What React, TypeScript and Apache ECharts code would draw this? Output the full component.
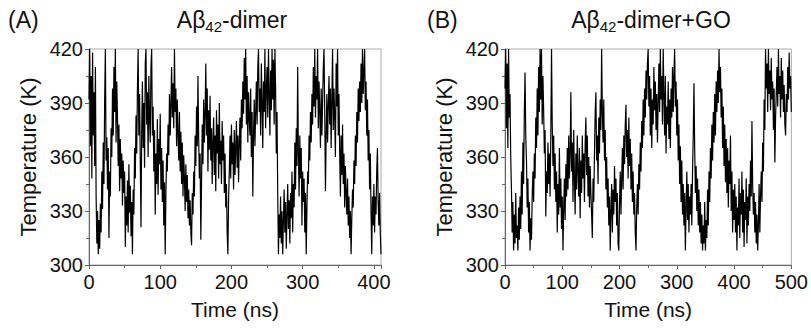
import React, { useEffect, useRef } from "react";
import * as echarts from "echarts";

// Replica temperature trajectories (K), one value per fixed time step (ns)
const TIME_STEP_A = 1;
const TIME_STEP_B = 1.25;

const tempA: number[] = [
  392, 420, 366, 405, 348, 418, 372, 396, 355, 410,
  338, 312, 330, 306, 325, 309, 334, 318, 352, 331,
  368, 345, 392, 420, 358, 371, 342, 365, 315, 352,
  338, 376, 360, 398, 372, 410, 385, 420, 368, 402,
  382, 355, 378, 341, 370, 348, 362, 333, 358, 340,
  352, 310, 338, 322, 347, 318, 356, 329, 344, 316,
  335, 306, 342, 328, 365, 348, 383, 362, 398, 420,
  372, 395, 358, 321, 376, 402, 365, 390, 354, 412,
  420, 378, 396, 360, 405, 382, 368, 410, 420, 372,
  388, 352, 375, 328, 362, 345, 381, 339, 370, 356,
  384, 342, 365, 335, 358, 322, 346, 306, 340, 362,
  352, 378, 361, 395, 372, 388, 410, 382, 401, 376,
  420, 385, 398, 366, 392, 372, 358, 385, 352, 374,
  345, 368, 338, 361, 348, 330, 356, 335, 350, 326,
  342, 322, 336, 318, 311, 340, 328, 352, 338, 372,
  355, 388, 366, 405, 370, 348, 362, 314, 345, 378,
  356, 392, 368, 383, 412, 372, 398, 352, 386, 364,
  394, 358, 376, 345, 368, 382, 350, 372, 341, 386,
  362, 378, 348, 390, 356, 369, 345, 380, 358, 372,
  340, 362, 332, 345, 318, 306, 336, 352, 372, 348,
  378, 356, 368, 342, 375, 350, 365, 380, 354, 372,
  346, 368, 382, 358, 392, 376, 402, 384, 415, 392,
  420, 378, 405, 368, 396, 382, 372, 398, 360, 385,
  338, 372, 392, 366, 385, 402, 378, 410, 420, 385,
  398, 372, 412, 390, 365, 402, 385, 420, 376, 398,
  410, 382, 420, 395, 372, 408, 386, 420, 392, 414,
  378, 420, 398, 362, 385, 340, 306, 328, 315, 338,
  312, 330, 306, 325, 342, 318, 335, 309, 328, 345,
  320, 336, 312, 340, 326, 352, 318, 345, 332, 368,
  342, 376, 355, 410, 362, 338, 372, 348, 365, 322,
  352, 335, 348, 318, 340, 306, 332, 352, 345, 372,
  358, 385, 368, 395, 378, 410, 388, 420, 382, 405,
  392, 420, 376, 402, 385, 365, 398, 372, 390, 410,
  420, 385, 341, 372, 395, 368, 388, 405, 378, 398,
  365, 392, 420, 375, 398, 382, 360, 412, 388, 420,
  372, 395, 362, 338, 372, 350, 378, 345, 362, 332,
  355, 340, 328, 348, 322, 338, 315, 330, 306, 326,
  342, 332, 358, 345, 372, 355, 385, 368, 398, 380,
  402, 385, 412, 390, 420, 395, 408, 420, 386, 402,
  372, 392, 358, 375, 342, 362, 330, 306, 338, 322,
  345, 318, 338, 328, 352, 365, 335, 322, 340, 318,
  306,
];

const tempB: number[] = [
  398, 420, 376, 412, 365, 420, 382, 395, 360, 342,
  318, 335, 308, 328, 312, 340, 315, 322, 308, 332,
  314, 338, 320, 352, 328, 368, 345, 385, 407, 372,
  358, 332, 348, 318, 335, 308, 326, 314, 338, 352,
  335, 362, 348, 382, 365, 398, 372, 410, 385, 420,
  392, 420, 378, 405, 386, 362, 375, 327, 352, 340,
  368, 345, 362, 338, 372, 420, 378, 355, 372, 342,
  362, 335, 352, 318, 345, 328, 365, 332, 348, 320,
  338, 308, 332, 348, 325, 356, 338, 365, 342, 372,
  348, 362, 396, 352, 368, 335, 375, 348, 328, 362,
  342, 372, 352, 338, 365, 326, 358, 340, 372, 348,
  362, 335, 368, 382, 350, 372, 338, 360, 332, 355,
  340, 328, 315, 348, 335, 362, 385, 396, 358, 372,
  345, 382, 362, 392, 375, 420, 386, 368, 392, 358,
  375, 342, 360, 332, 348, 322, 338, 308, 330, 345,
  318, 342, 328, 355, 335, 348, 322, 340, 312, 308,
  335, 352, 328, 348, 365, 342, 372, 356, 378, 389,
  360, 375, 348, 382, 355, 370, 342, 362, 335, 352,
  328, 340, 318, 308, 332, 345, 328, 356, 342, 368,
  352, 380, 365, 392, 372, 398, 382, 408, 392, 412,
  420, 388, 405, 372, 398, 365, 392, 378, 410, 386,
  402, 375, 395, 368, 390, 412, 385, 420, 392, 405,
  378, 420, 395, 372, 405, 362, 388, 378, 402, 370,
  392, 365, 398, 382, 410, 385, 405, 420, 388, 402,
  372, 392, 358, 378, 345, 366, 335, 358, 328, 345,
  322, 340, 308, 332, 352, 325, 345, 318, 338, 328,
  345, 322, 352, 372, 401, 365, 340, 355, 330, 348,
  322, 342, 318, 335, 312, 328, 308, 322, 312, 335,
  308, 325, 315, 342, 322, 352, 335, 365, 348, 378,
  358, 385, 368, 395, 372, 402, 385, 408, 390, 420,
  396, 410, 382, 398, 365, 388, 355, 378, 346, 370,
  340, 365, 332, 358, 345, 372, 330, 352, 318, 342,
  325, 345, 318, 338, 308, 332, 322, 348, 315, 340,
  328, 352, 318, 342, 310, 335, 325, 348, 312, 338,
  322, 345, 330, 358, 338, 380, 345, 328, 340, 318,
  335, 312, 328, 308, 322, 345, 318, 338, 352, 335,
  368, 352, 392, 375, 420, 398, 412, 385, 420, 395,
  408, 386, 415, 392, 402, 375, 398, 357, 382, 396,
  410, 388, 420, 395, 405, 382, 415, 392, 408, 385,
  400, 378, 372, 395, 385, 410, 392, 418, 398, 405,
  385,
];

const timeMaxA = 410;
const timeMaxB = 500;
const tempMin = 300;
const tempMax = 420;
const timeTicksA = 100;
const timeTicksB = 100;
const tempTick = 30;

const titleA = "Aβ{s|42}-dimer";
const titleB = "Aβ{s|42}-dimer+GO";
const panelA = "(A)";
const panelB = "(B)";
const xName = "Time (ns)";
const yName = "Temperature (K)";

const FONT = '"Liberation Sans", Arial, sans-serif';

const toPairs = (vals: number[], step: number) =>
  vals.map((v, i) => [i * step, v]);

function makeXAxis(gridIndex: number, max: number, interval: number) {
  return {
    type: "value",
    gridIndex,
    min: 0,
    max,
    interval,
    name: xName,
    nameLocation: "middle",
    nameGap: 34,
    nameTextStyle: { fontFamily: FONT, fontSize: 21, color: "#111" },
    axisLine: { show: true, onZero: false, lineStyle: { color: "#666", width: 1 } },
    axisTick: { show: true, inside: false, length: 4, lineStyle: { color: "#666" } },
    minorTick: { show: true, splitNumber: 2, length: 3, lineStyle: { color: "#666" } },
    splitLine: { show: false },
    axisLabel: {
      fontFamily: FONT,
      fontSize: 20,
      color: "#111",
      margin: 7,
      showMaxLabel: max % interval === 0,
    },
  };
}

function makeYAxis(gridIndex: number) {
  return {
    type: "value",
    gridIndex,
    min: tempMin,
    max: tempMax,
    interval: tempTick,
    name: yName,
    nameLocation: "middle",
    nameGap: 50,
    nameRotate: 90,
    nameTextStyle: { fontFamily: FONT, fontSize: 22, color: "#111" },
    axisLine: { show: true, lineStyle: { color: "#666", width: 1 } },
    axisTick: { show: true, inside: false, length: 4, lineStyle: { color: "#666" } },
    minorTick: { show: true, splitNumber: 2, length: 3, lineStyle: { color: "#666" } },
    splitLine: { show: false },
    axisLabel: { fontFamily: FONT, fontSize: 20, color: "#111", margin: 6 },
  };
}

function textEl(x: number, y: number, text: string, align: string) {
  return {
    type: "text",
    x,
    y,
    style: {
      text,
      fill: "#111",
      fontFamily: FONT,
      fontSize: 23,
      lineHeight: 28,
      align,
      verticalAlign: "middle",
      rich: {
        s: { fontSize: 15, lineHeight: 10, verticalAlign: "bottom", fill: "#111", fontFamily: FONT },
      },
    },
  };
}

export default function App() {
  const ref = useRef<HTMLDivElement>(null);

  useEffect(() => {
    if (!ref.current) return;
    const chart = echarts.init(ref.current, null, { renderer: "svg" });
    chart.setOption({
      animation: false,
      backgroundColor: "#fff",
      grid: [
        { left: 89, top: 49, width: 292, height: 216, show: true, borderColor: "#aaa", borderWidth: 1, backgroundColor: "transparent" },
        { left: 505, top: 49, width: 290, height: 216, show: true, borderColor: "#aaa", borderWidth: 1, backgroundColor: "transparent" },
      ],
      xAxis: [makeXAxis(0, timeMaxA, timeTicksA), makeXAxis(1, timeMaxB, timeTicksB)],
      yAxis: [makeYAxis(0), makeYAxis(1)],
      graphic: [
        textEl(8, 20, panelA, "left"),
        textEl(232, 20, titleA, "center"),
        textEl(427, 20, panelB, "left"),
        textEl(651, 20, titleB, "center"),
      ],
      series: [
        {
          type: "line",
          xAxisIndex: 0,
          yAxisIndex: 0,
          data: toPairs(tempA, TIME_STEP_A),
          showSymbol: false,
          symbol: "none",
          lineStyle: { color: "#000", width: 1.2 },
          clip: true,
        },
        {
          type: "line",
          xAxisIndex: 1,
          yAxisIndex: 1,
          data: toPairs(tempB, TIME_STEP_B),
          showSymbol: false,
          symbol: "none",
          lineStyle: { color: "#000", width: 1.2 },
          clip: true,
        },
      ],
    });
    return () => chart.dispose();
  }, []);

  return <div ref={ref} style={{ width: 811, height: 329, position: "absolute", left: 0, top: 0 }} />;
}
